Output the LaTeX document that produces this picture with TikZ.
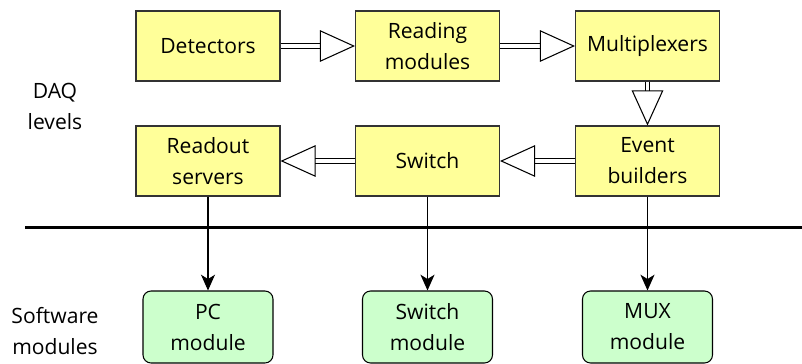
\documentclass[tikz,border=0pt]{standalone}
\usepackage{fontspec}
\setmainfont{Open Sans}
\usetikzlibrary{arrows.meta}
\definecolor{daqyellow}{RGB}{255,255,153}
\definecolor{swgreen}{RGB}{204,255,204}
\begin{document}
\begin{tikzpicture}[x=0.02cm,y=-0.02cm,
	daqbox/.style={draw=black!80,line width=0.6pt,fill=daqyellow,minimum width=2.88cm,minimum height=1.4cm,align=center,font=\fontsize{12}{17.6}\selectfont},
	swbox/.style={draw=black,line width=0.6pt,fill=swgreen,rounded corners=0.16cm,minimum width=2.6cm,minimum height=1.44cm,align=center,font=\fontsize{12}{17.6}\selectfont},
	flow/.style={draw=black,line width=0.6pt,double=white,double distance=2.2pt,-{Triangle[open,length=20pt,width=18pt]}},
	link/.style={draw=black,line width=0.6pt,-{Stealth[length=9pt,width=8pt,inset=2.5pt]}},
	tag/.style={align=center,font=\fontsize{12}{17.6}\selectfont}]
\useasboundingbox (0,0) rectangle (802,363);
% DAQ levels
\node[daqbox] (det) at (208,46) {Detectors};
\node[daqbox] (read) at (427.5,46) {Reading\\modules};
\node[daqbox] (mux) at (647.5,46) {Multiplexers};
\node[daqbox] (ro) at (208,161) {Readout\\servers};
\node[daqbox] (sw) at (427.5,161) {Switch};
\node[daqbox] (eb) at (647.5,161) {Event\\builders};
% software modules
\node[swbox] (pcm) at (208,327) {PC\\module};
\node[swbox] (swm) at (427.5,327) {Switch\\module};
\node[swbox] (muxm) at (647.5,327) {MUX\\module};
\node[tag] (daq) at (55,106) {DAQ\\levels};
\node[tag] (soft) at (55,331) {Software\\modules};
\coordinate (sepl) at (25,227);
\coordinate (sepr) at (802,227);
\draw[line width=1.7pt] (sepl) -- (sepr);
\draw[flow] (det) -- (read);
\draw[flow] (read) -- (mux);
\draw[flow] (mux) -- (eb);
\draw[flow] (eb) -- (sw);
\draw[flow] (sw) -- (ro);
\draw[link] (ro) -- (pcm);
\draw[link] (sw) -- (swm);
\draw[link] (eb) -- (muxm);
\end{tikzpicture}
\end{document}
